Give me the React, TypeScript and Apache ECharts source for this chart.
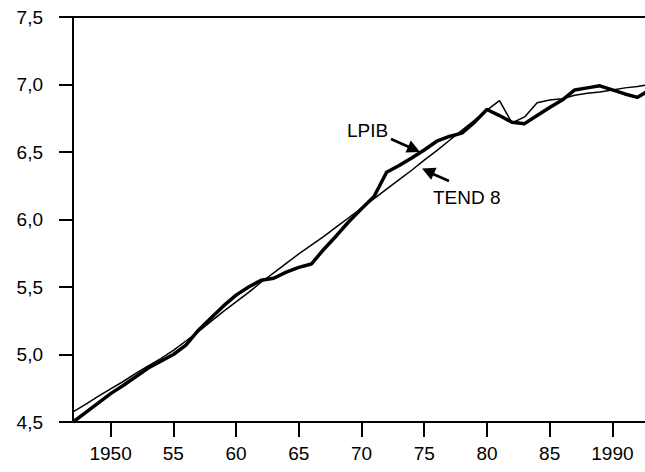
import React, { useEffect, useRef } from "react";
import * as echarts from "echarts";

const years = [
  1947, 1948, 1949, 1950, 1951, 1952, 1953, 1954, 1955, 1956, 1957, 1958,
  1959, 1960, 1961, 1962, 1963, 1964, 1965, 1966, 1967, 1968, 1969, 1970,
  1971, 1972, 1973, 1974, 1975, 1976, 1977, 1978, 1979, 1980, 1981, 1982,
  1983, 1984, 1985, 1986, 1987, 1988, 1989, 1990, 1991, 1992, 1993,
];

const lpib = [
  4.5, 4.57, 4.64, 4.71, 4.77, 4.835, 4.9, 4.95, 5.0, 5.07, 5.18, 5.27,
  5.36, 5.44, 5.5, 5.55, 5.565, 5.61, 5.645, 5.67, 5.78, 5.88, 5.985, 6.08,
  6.17, 6.35, 6.4, 6.455, 6.515, 6.58, 6.615, 6.64, 6.72, 6.815, 6.77, 6.72,
  6.71, 6.77, 6.83, 6.885, 6.96, 6.975, 6.99, 6.96, 6.93, 6.905, 6.96,
];

const tend8 = [
  4.575, 4.63, 4.69, 4.745, 4.8, 4.86, 4.915, 4.97, 5.03, 5.1, 5.17, 5.245,
  5.32, 5.39, 5.46, 5.535, 5.605, 5.675, 5.745, 5.81, 5.875, 5.945, 6.015, 6.085,
  6.155, 6.225, 6.295, 6.365, 6.44, 6.51, 6.585, 6.66, 6.735, 6.81, 6.88, 6.715,
  6.76, 6.865, 6.885, 6.895, 6.92, 6.935, 6.945, 6.96, 6.975, 6.985, 7.0,
];

const xTicks = [1950, 1955, 1960, 1965, 1970, 1975, 1980, 1985, 1990];
const yTicks = [4.5, 5.0, 5.5, 6.0, 6.5, 7.0, 7.5];

const FONT = "'Liberation Sans', Arial, Helvetica, sans-serif";

export default function App() {
  const ref = useRef<HTMLDivElement>(null);
  useEffect(() => {
    if (!ref.current) return;
    const chart = echarts.init(ref.current, undefined, { renderer: "svg" });
    const lp = years.map((y, i) => [y, lpib[i]]);
    const td = years.map((y, i) => [y, tend8[i]]);
    chart.setOption({
      animation: false,
      backgroundColor: "#ffffff",
      grid: { left: 73, top: 17, right: 0, bottom: 50, containLabel: false },
      xAxis: [
        {
          type: "value",
          min: 1947,
          max: 1992.6,
          axisLine: { show: true, lineStyle: { color: "#000", width: 2 } },
          axisTick: {
            show: true,
            length: 15,
            inside: false,
            lineStyle: { color: "#000", width: 2 },
            customValues: xTicks,
          },
          axisLabel: {
            customValues: xTicks,
            margin: 22,
            color: "#000",
            fontFamily: FONT,
            fontSize: 19,
            formatter: (v: number) =>
              v === 1950 || v === 1990 ? String(v) : String(v).slice(2),
          },
          splitLine: { show: false },
        },
        {
          type: "value",
          position: "top",
          min: 1947,
          max: 1992.6,
          axisLine: { show: true, lineStyle: { color: "#000", width: 2 } },
          axisTick: { show: false },
          axisLabel: { show: false },
          splitLine: { show: false },
        },
      ],
      yAxis: {
        type: "value",
        min: 4.5,
        max: 7.5,
        interval: 0.5,
        axisLine: { show: true, lineStyle: { color: "#000", width: 2 } },
        axisTick: {
          show: true,
          length: 14,
          inside: false,
          lineStyle: { color: "#000", width: 2 },
        },
        axisLabel: {
          margin: 30,
          color: "#000",
          fontFamily: FONT,
          fontSize: 19,
          formatter: (v: number) =>
            yTicks.includes(v) ? v.toFixed(1).replace(".", ",") : "",
        },
        splitLine: { show: false },
      },
      series: [
        {
          name: "TEND 8",
          type: "line",
          data: td,
          showSymbol: false,
          symbol: "none",
          lineStyle: { color: "#000", width: 1.5 },
          clip: true,
          z: 2,
        },
        {
          name: "LPIB",
          type: "line",
          data: lp,
          showSymbol: false,
          symbol: "none",
          lineStyle: { color: "#000", width: 3.5, join: "round" },
          clip: true,
          z: 3,
        },
      ],
      graphic: [
        {
          type: "text",
          left: 347,
          top: 121,
          style: { text: "LPIB", fill: "#000", font: `19px ${FONT}` },
        },
        {
          type: "text",
          left: 433,
          top: 188,
          style: { text: "TEND 8", fill: "#000", font: `19px ${FONT}` },
        },
        {
          type: "line",
          shape: { x1: 391, y1: 139, x2: 409, y2: 147 },
          style: { stroke: "#000", lineWidth: 2.5 },
        },
        {
          type: "polygon",
          shape: {
            points: [
              [420, 152],
              [405.5, 152.5],
              [410.8, 140.5],
            ],
          },
          style: { fill: "#000" },
        },
        {
          type: "line",
          shape: { x1: 449, y1: 181, x2: 433, y2: 174 },
          style: { stroke: "#000", lineWidth: 2.5 },
        },
        {
          type: "polygon",
          shape: {
            points: [
              [422, 168.5],
              [436.6, 167.8],
              [431.2, 179.8],
            ],
          },
          style: { fill: "#000" },
        },
      ],
    });
    return () => chart.dispose();
  }, []);
  return (
    <div
      ref={ref}
      style={{ position: "fixed", left: 0, top: 0, width: 645, height: 472 }}
    />
  );
}
